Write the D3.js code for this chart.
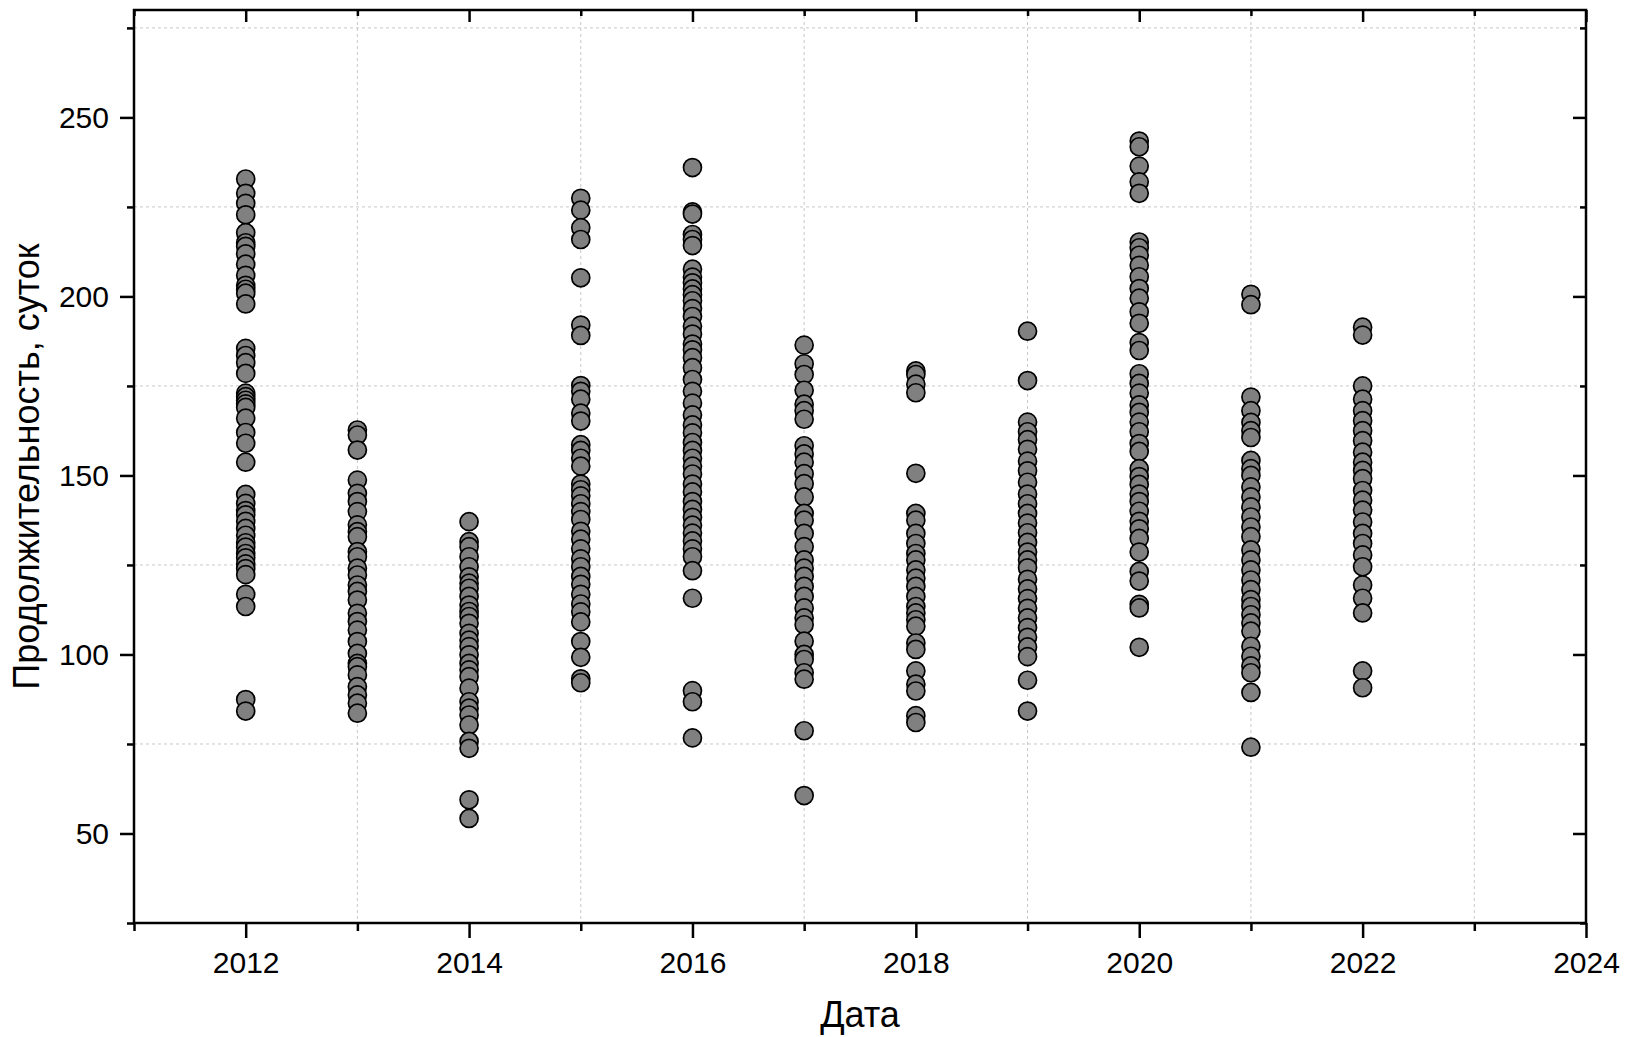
<!DOCTYPE html>
<html>
<head>
<meta charset="utf-8">
<script src="https://cdn.jsdelivr.net/npm/d3@7"></script>
<style>
  html, body { margin: 0; padding: 0; background: #fff; }
  svg { display: block; }
  text { font-family: Arial, "Liberation Sans", sans-serif; fill: #000; }
</style>
</head>
<body>
<svg id="chart" width="1632" height="1037"></svg>
<script>
// ---- Data ----
const years = [2012, 2013, 2014, 2015, 2016, 2017, 2018, 2019, 2020, 2021, 2022];

const d2012 = [232.8, 228.8, 226, 222.8, 217.8, 215, 214, 211.9, 209, 205.9, 203.1, 202, 200.9, 197.9,
  185.5, 183.5, 181.5, 178.5, 173, 172, 171, 170, 169, 166, 162, 159, 153.7,
  144.7, 142.2, 140.2, 139, 137.2, 135.2, 133.3, 131.2, 130, 128.2, 127, 125.3, 124, 122.3, 116.8, 113.4, 87.4, 84.2];
const d2013 = [162.7, 161.3, 157.1, 148.7, 145, 142.7, 139.9, 136.2, 134.3, 132.9, 128.7, 127.3, 124.1, 122.2,
  119.4, 117.6, 115.2, 111.5, 109.2, 106.8, 103.6, 100.3, 97.5, 96.6, 94.3, 91, 88.7, 86.4, 83.6];
const d2014 = [137.1, 131.5, 130.1, 127.3, 124.5, 121.7, 119.9, 118.5, 116.2, 113.8, 112, 110.6, 108.7, 105.9,
  104, 102.2, 99.9, 97.5, 95.7, 93.8, 90.6, 86.8, 85, 83.1, 80.3, 75.7, 73.8, 59.4, 54.2];
const d2015 = [227.4, 224.1, 219.2, 215.9, 205.2, 192, 189.1, 175.1, 173.5, 171.3, 167.4, 165.2, 158.6, 157, 154.8,
  152.6, 147.6, 146, 144.3, 142.1, 139.9, 137.7, 134.4, 132.2, 129.5, 126.7, 124.5, 121.8, 119.6, 116.8, 114.1,
  111.9, 109.1, 103.6, 99.2, 93.2, 92.1];
const d2016 = [236, 223.6, 223, 217.3, 215.9, 214.2, 207.6, 205.4, 203.8, 202.1, 200.5, 198.8, 196.6, 194.4, 191.7,
  189.5, 186.7, 185.1, 182.9, 180.1, 176.8, 173.5, 170.2, 166.9, 164.1, 161.9, 159.2, 157, 154.8, 152.6, 150.4,
  147.6, 145.4, 142.7, 140.5, 138.3, 136.1, 133.9, 131.7, 129.5, 127.3, 123.4, 115.7, 89.9, 86.8, 76.7];
const d2017 = [186.4, 181.2, 178.2, 173.8, 169.9, 168.1, 165.7, 158.3, 156, 153.7, 150.5, 147.7, 144, 139.4, 137.5,
  133.8, 130.1, 126.4, 124.1, 121.8, 119, 116.2, 113, 110.2, 108.3, 103.7, 100, 98.6, 94.9, 93.1, 78.7, 60.6];
const d2018 = [179.2, 178.2, 175.5, 173.1, 150.6, 139.4, 137.5, 133.8, 131, 128.2, 126.4, 123.6, 121.3, 119, 116.2,
  113.4, 111.6, 109.7, 107.9, 103.2, 101.4, 95.4, 91.7, 89.8, 82.9, 81];
const d2019 = [190.3, 176.5, 164.9, 162.2, 160, 157.3, 154, 151.3, 148.1, 144.8, 142.1, 139.4, 136.7, 134, 131.3,
  128.6, 126.4, 124.2, 121, 118.3, 115.6, 112.9, 110.2, 107.5, 104.8, 102.1, 99.4, 92.8, 84.2];
const d2020 = [243.4, 241.8, 236.4, 232, 228.8, 215.2, 213.6, 211.5, 208.7, 205.5, 202.2, 199.5, 195.7, 192.5, 187.1,
  184.9, 178.4, 175.7, 173, 169.7, 167.6, 164.9, 162.2, 158.9, 156.7, 151.9, 149.7, 147.5, 144.8, 142.7, 140,
  137.2, 135.1, 132.4, 128.6, 123.2, 120.5, 114, 113, 102];
const d2021 = [200.6, 197.7, 171.9, 168.1, 164.8, 162.5, 160.6, 154.2, 151.9, 150, 146.8, 144, 141.2, 138.4, 135.6,
  132.9, 129.2, 126.4, 123.6, 120.8, 118.1, 115.3, 113.4, 111.1, 108.8, 106.5, 102.3, 99.5, 96.8, 94.9, 89.4, 74.1];
const d2022 = [191.4, 189.2, 175, 171.3, 168.1, 165.3, 162.5, 159.7, 156.5, 153.7, 151.4, 149.1, 145.8, 143.1, 140.3,
  137, 133.8, 131, 127.8, 124.5, 119.4, 115.7, 111.6, 95.4, 90.7];

const seriesByYear = [d2012, d2013, d2014, d2015, d2016, d2017, d2018, d2019, d2020, d2021, d2022];

const xMajorTicks = [2012, 2014, 2016, 2018, 2020, 2022, 2024];
const xMinorTicks = [2011, 2013, 2015, 2017, 2019, 2021, 2023];
const yMajorTicks = [50, 100, 150, 200, 250];
const yMinorTicks = [25, 75, 125, 175, 225, 275];

const xTitle = "Дата";
const yTitle = "Продолжительность, суток";

// ---- Layout ----
const svg = d3.select("#chart");
const L = 134, R = 1586, T = 10, B = 923;

const x = d3.scaleLinear().domain([2011, 2024]).range([L, R]);
const y = d3.scaleLinear().domain([25, 280]).range([B, T]);

// Grid (at minor ticks)
const grid = svg.append("g");
grid.selectAll("line.gx").data(xMinorTicks.filter(d => d > 2011)).enter().append("line")
  .attr("x1", d => x(d)).attr("x2", d => x(d)).attr("y1", T).attr("y2", B)
  .attr("stroke", "#c8c8c8").attr("stroke-width", 1).attr("stroke-dasharray", "3,3");
grid.selectAll("line.gy").data(yMinorTicks.filter(d => d > 25)).enter().append("line")
  .attr("y1", d => y(d)).attr("y2", d => y(d)).attr("x1", L).attr("x2", R)
  .attr("stroke", "#c8c8c8").attr("stroke-width", 1).attr("stroke-dasharray", "3,3");

// Points
const pts = [];
years.forEach((yr, i) => seriesByYear[i].forEach(v => pts.push({ yr, v })));
svg.append("g").selectAll("circle").data(pts).enter().append("circle")
  .attr("cx", d => x(d.yr)).attr("cy", d => y(d.v)).attr("r", 9)
  .attr("fill", "#808080").attr("stroke", "#000").attr("stroke-width", 1.7);

// Axes
const fmt = d3.format("d");
function styleAxis(g) {
  g.select(".domain").remove();
  g.selectAll(".tick line").attr("stroke", "#000").attr("stroke-width", 2.5);
  g.selectAll(".tick text").style("font-size", "30px").style("font-family", "Arial, 'Liberation Sans', sans-serif");
}
// bottom major
const gxB = svg.append("g").attr("transform", `translate(0,${B})`)
  .call(d3.axisBottom(x).tickValues(xMajorTicks).tickFormat(fmt).tickSize(15).tickPadding(14));
styleAxis(gxB);
const gxBm = svg.append("g").attr("transform", `translate(0,${B})`)
  .call(d3.axisBottom(x).tickValues(xMinorTicks).tickFormat("").tickSize(8));
styleAxis(gxBm);
// top (inward)
const gxT = svg.append("g").attr("transform", `translate(0,${T})`)
  .call(d3.axisTop(x).tickValues(xMajorTicks).tickFormat("").tickSize(-12));
styleAxis(gxT);
const gxTm = svg.append("g").attr("transform", `translate(0,${T})`)
  .call(d3.axisTop(x).tickValues(xMinorTicks).tickFormat("").tickSize(-6));
styleAxis(gxTm);
// left
const gyL = svg.append("g").attr("transform", `translate(${L},0)`)
  .call(d3.axisLeft(y).tickValues(yMajorTicks).tickFormat(fmt).tickSize(14).tickPadding(11));
styleAxis(gyL);
const gyLm = svg.append("g").attr("transform", `translate(${L},0)`)
  .call(d3.axisLeft(y).tickValues(yMinorTicks).tickFormat("").tickSize(7));
styleAxis(gyLm);
// right (inward)
const gyR = svg.append("g").attr("transform", `translate(${R},0)`)
  .call(d3.axisRight(y).tickValues(yMajorTicks).tickFormat("").tickSize(-13));
styleAxis(gyR);
const gyRm = svg.append("g").attr("transform", `translate(${R},0)`)
  .call(d3.axisRight(y).tickValues(yMinorTicks).tickFormat("").tickSize(-6));
styleAxis(gyRm);

// Frame
svg.append("rect").attr("x", L).attr("y", T).attr("width", R - L).attr("height", B - T)
  .attr("fill", "none").attr("stroke", "#000").attr("stroke-width", 2.5);

// Titles
svg.append("text").attr("x", (L + R) / 2).attr("y", 1027).attr("text-anchor", "middle")
  .style("font-size", "36px").text(xTitle);
svg.append("text").attr("transform", `translate(39,${(T + B) / 2}) rotate(-90)`)
  .attr("text-anchor", "middle").style("font-size", "36px").text(yTitle);
</script>
</body>
</html>
